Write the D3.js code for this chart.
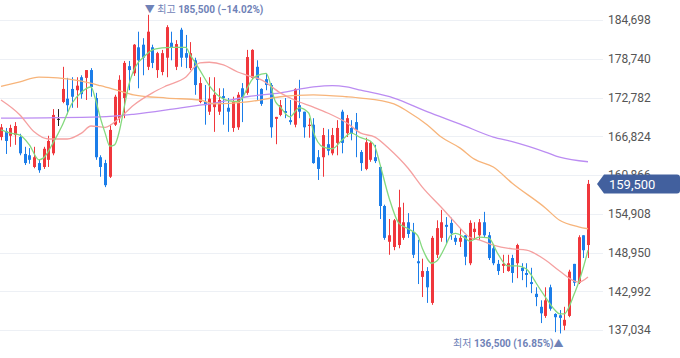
<!DOCTYPE html>
<html>
<head>
<meta charset="utf-8">
<script src="https://cdn.jsdelivr.net/npm/d3@7"></script>
<style>
body { margin: 0; background: #fff; }
svg { display: block; }
</style>
</head>
<body>
<svg width="680" height="358"></svg>
<script>
// daily candles, oldest first
var opens = [166700,167600,166900,167000,166700,164100,163900,162100,162700,162100,
  163200,164200,169500,172100,172600,174100,173900,175900,175800,177000,
  172700,163600,162700,160600,168600,169600,172700,177600,176500,180500,
  180900,177500,180500,177000,176700,178900,181200,177500,183200,179600,
  177300,178500,172100,172100,170600,171300,170600,173000,171200,168100,
  168200,174200,173500,175800,177500,174100,175600,174700,169500,170100,
  170700,169300,168600,171600,170600,168400,168600,163600,163600,165600,
  164200,165800,170600,167300,168100,169000,164400,161800,163200,163600,
  162100,156100,150600,149800,150100,151200,153600,152100,147600,145200,
  146100,141200,148600,151200,153200,153500,151200,150600,151600,147300,
  152100,151600,153600,151600,149600,147200,146900,146100,148100,147300,
  146600,145800,144400,142600,140600,139200,143600,139500,139300,137700,
  139200,147200,144300,151600,150100];
var highs = [168700,168100,168600,169000,167200,165200,165000,165200,163200,165200,
  166900,171000,171000,177500,175800,175900,175900,176200,177000,177300,
  173500,163900,163200,168600,173200,176200,178400,178400,181000,182900,
  181900,185500,180900,179800,180100,183900,182900,181600,183500,182400,
  181300,178900,175900,174700,175900,175900,174200,174200,172700,172900,
  173600,175000,180100,180200,178500,174200,176500,175000,169800,172400,
  172700,172400,174200,175500,170600,169600,169600,164700,168100,167900,
  168100,169300,170900,170100,169300,170400,164700,166600,166100,165500,
  162100,156300,154100,154100,158600,156600,155000,153500,150900,148000,
  146700,151500,153900,155500,154400,154300,151600,152700,151600,153900,
  153600,154100,155200,152100,150100,147800,148600,148600,148600,150300,
  147300,147300,146600,143600,141600,143600,144000,139600,140100,140600,
  146300,147200,151600,151600,160100];
var lows = [166200,164100,165200,165500,163900,162400,162600,161900,161200,161800,
  162100,163900,168400,171900,170200,171200,171200,172600,172400,172900,
  163200,160600,159000,160400,168400,168900,169600,173900,176100,174200,
  176200,177000,177300,175800,176200,175900,178500,177000,177500,177300,
  177000,173200,171900,168600,170100,167500,170100,168600,167500,167500,
  167800,169000,173200,175500,172400,171500,173900,166600,165600,169900,
  169600,168600,168200,169600,166600,166600,162600,160100,160600,163900,
  163900,163900,164200,166700,166200,163600,161500,161600,162900,162700,
  154100,150900,148600,149300,149600,150900,151200,148100,144100,142100,
  141200,140900,148100,150600,150400,150900,150100,149800,147000,147000,
  150900,150900,151300,147800,147000,145500,145800,146000,144300,145000,
  144700,143600,142700,140700,138100,138900,140000,136700,136500,137000,
  139000,143800,144100,148100,148100];
var closes = [168200,166100,168100,168400,164200,162700,163200,163600,161600,164900,
  166100,170100,169500,174100,171600,172900,174600,173300,177000,174400,
  163600,162100,159300,167800,172900,175500,178100,177000,180900,178500,
  178900,182900,178100,179600,179600,183600,180400,181000,178900,178900,
  179600,174700,175000,171600,172600,173200,172400,172700,170600,172100,
  173200,172700,179000,180100,175500,171800,174700,168200,169800,171600,
  170400,169000,174100,170600,168200,168600,162700,161800,167000,164600,
  167000,168100,165800,169600,167200,167800,162700,165900,165800,163000,
  156100,151200,151600,153900,155900,153600,151800,148600,147300,146100,
  143600,151200,152700,153600,152900,151900,150600,151200,148300,153500,
  152600,153600,151600,148100,147300,146100,147200,147300,145800,150100,
  146100,145500,144100,142100,139600,141600,140300,139000,138900,138600,
  146000,144300,151300,149300,159500];

// moving averages: [candle index, value]
var ma5 = [[0,167800],[2,167300],[4,167000],[6,165500],[8,163200],[9,163500],[11,165800],
  [13,168600],[15,171900],[17,173600],[19,174400],[20,172400],[21,169600],[22,167300],
  [23,165300],[24,165500],[25,167600],[26,171200],[27,174700],[28,176900],[29,178200],
  [30,178900],[32,180100],[34,180400],[36,180500],[39,180500],[40,179300],[42,177000],
  [44,174600],[46,173000],[49,172200],[50,172200],[51,172700],[52,174200],[53,175500],
  [54,176100],[56,176500],[58,172100],[59,171300],[61,169800],[63,171200],[65,170400],
  [66,167500],[68,165200],[70,164900],[72,166200],[74,167300],[76,166600],[78,166100],
  [79,165200],[80,162700],[82,157300],[84,153500],[86,152600],[88,151600],[89,149600],
  [91,147300],[92,147600],[94,150100],[95,151600],[96,151900],[98,151200],[99,150700],
  [101,151300],[103,151200],[105,148700],[107,146900],[109,146900],[111,146400],
  [112,145500],[113,144300],[115,142100],[117,140100],[118,139500],[119,139500],
  [120,140600],[121,142400],[122,144300],[123,146600],[124,149300]];
var ma20 = [[0,172400],[4,170100],[7,167500],[10,166400],[14,166400],[17,167300],[19,168400],
  [22,168200],[25,169600],[28,171600],[32,173500],[35,174600],[39,175900],[42,178100],
  [44,178200],[47,177800],[50,176700],[52,176200],[55,175500],[59,173500],[62,172400],
  [66,171300],[69,170400],[73,168900],[76,167300],[79,166700],[82,164900],[86,161900],
  [89,159000],[93,155900],[96,153500],[99,151300],[101,150900],[104,150100],[108,149500],
  [111,149300],[115,147800],[118,146100],[122,144400],[124,145200]];
var ma60 = [[0,174500],[4,175200],[8,175900],[12,175800],[17,175300],[21,174600],[25,173800],
  [28,173200],[35,172700],[42,172400],[45,171800],[52,172100],[59,172900],[66,173200],
  [73,172900],[76,172700],[83,171800],[86,170600],[90,168600],[93,166700],[97,165000],
  [100,163300],[104,162100],[108,159600],[115,155800],[118,153900],[122,152900],[124,152600]];
var ma120 = [[0,169600],[21,169800],[28,170200],[38,171200],[42,171600],[45,171900],
  [52,172900],[59,173500],[66,174400],[70,174600],[73,174400],[76,173900],[83,172700],
  [90,170600],[97,168700],[104,166700],[108,166000],[115,164400],[118,163600],[124,162900]];

var yTicks = [137034, 142992, 148950, 154908, 160866, 166824, 172782, 178740, 184698];

var svg = d3.select("svg");
var n = closes.length;
var x = d3.scaleLinear().domain([0, n - 1]).range([1, 588]);
var y = d3.scaleLinear().domain([yTicks[0], yTicks[yTicks.length - 1]]).range([330, 20]);

var RED = "#f0373c", BLUE = "#1b7de9";

// grid
svg.append("g").selectAll("line").data(yTicks).enter().append("line")
  .attr("x1", 0).attr("x2", 603)
  .attr("y1", function(d) { return Math.round(y(d)) + 0.5; })
  .attr("y2", function(d) { return Math.round(y(d)) + 0.5; })
  .attr("stroke", "#edf0f5").attr("stroke-width", 1);

// axis labels
var axis = svg.append("g").attr("transform", "translate(603,0)")
  .call(d3.axisRight(y).tickValues(yTicks).tickSize(0).tickPadding(5).tickFormat(d3.format(",")));
axis.select(".domain").remove();
axis.selectAll("text").attr("fill", "#555").attr("font-size", "12px")
  .attr("font-family", "Roboto, 'Noto Sans', sans-serif");

// candles
var candles = svg.append("g").selectAll("g").data(d3.range(n)).enter().append("g");
function col(i) {
  if (closes[i] > opens[i]) return RED;
  if (closes[i] < opens[i]) return BLUE;
  return "#222";
}
candles.append("line")
  .attr("x1", function(i) { return Math.round(x(i)) + 0.5; })
  .attr("x2", function(i) { return Math.round(x(i)) + 0.5; })
  .attr("y1", function(i) { return y(highs[i]); })
  .attr("y2", function(i) { return y(lows[i]); })
  .attr("stroke", col).attr("stroke-width", 1);
candles.append("rect")
  .attr("x", function(i) { return Math.round(x(i)) - 1; })
  .attr("width", 3)
  .attr("y", function(i) { return y(Math.max(opens[i], closes[i])); })
  .attr("height", function(i) { return Math.max(1, Math.abs(y(opens[i]) - y(closes[i]))); })
  .attr("fill", col);

// moving averages
var line = d3.line().x(function(d) { return x(d[0]); }).y(function(d) { return y(d[1]); })
  .curve(d3.curveMonotoneX);
[[ma120, "#bb8cf2"], [ma60, "#f7b47a"], [ma20, "#f5a0a0"], [ma5, "#84d97e"]].forEach(function(m) {
  svg.append("path").datum(m[0]).attr("d", line)
    .attr("fill", "none").attr("stroke", m[1]).attr("stroke-width", 1.3);
});

// high / low markers
var last = closes[n - 1];
var hiIdx = d3.maxIndex(highs), loIdx = d3.minIndex(lows);
var hi = highs[hiIdx], lo = lows[loIdx];
var pct = d3.format(".2f");
var font = "Roboto, 'Noto Sans CJK KR', sans-serif";

var hiText = svg.append("text").attr("x", x(hiIdx) - 3).attr("y", 12.5)
  .attr("font-family", font).attr("font-size", "10px").attr("fill", "#6f82b7");
hiText.append("tspan").text("▼ ");
hiText.append("tspan").text("최고 ");
hiText.append("tspan").attr("font-weight", "bold")
  .text(d3.format(",")(hi) + " (" + pct((last / hi - 1) * 100) + "%)");

var loText = svg.append("text").attr("x", x(loIdx) + 4).attr("y", 346.5)
  .attr("text-anchor", "end")
  .attr("font-family", font).attr("font-size", "10px").attr("fill", "#6f82b7");
loText.append("tspan").text("최저 ");
loText.append("tspan").attr("font-weight", "bold")
  .text(d3.format(",")(lo) + " (" + pct((last / lo - 1) * 100) + "%)");
loText.append("tspan").text("▲");

// last price tag
var ty = y(last);
svg.append("path")
  .attr("d", "M597," + ty + "L604," + (ty - 9.5) + "H677Q680," + (ty - 9.5) + " 680," + (ty - 6.5) +
    "V" + (ty + 6.5) + "Q680," + (ty + 9.5) + " 677," + (ty + 9.5) + "H604Z")
  .attr("fill", "#42609e");
svg.append("text").attr("x", 609).attr("y", ty).attr("dy", "0.36em")
  .attr("fill", "#fff").attr("font-size", "13px")
  .attr("font-family", "Roboto, 'Noto Sans', sans-serif")
  .text(d3.format(",")(last));
</script>
</body>
</html>
